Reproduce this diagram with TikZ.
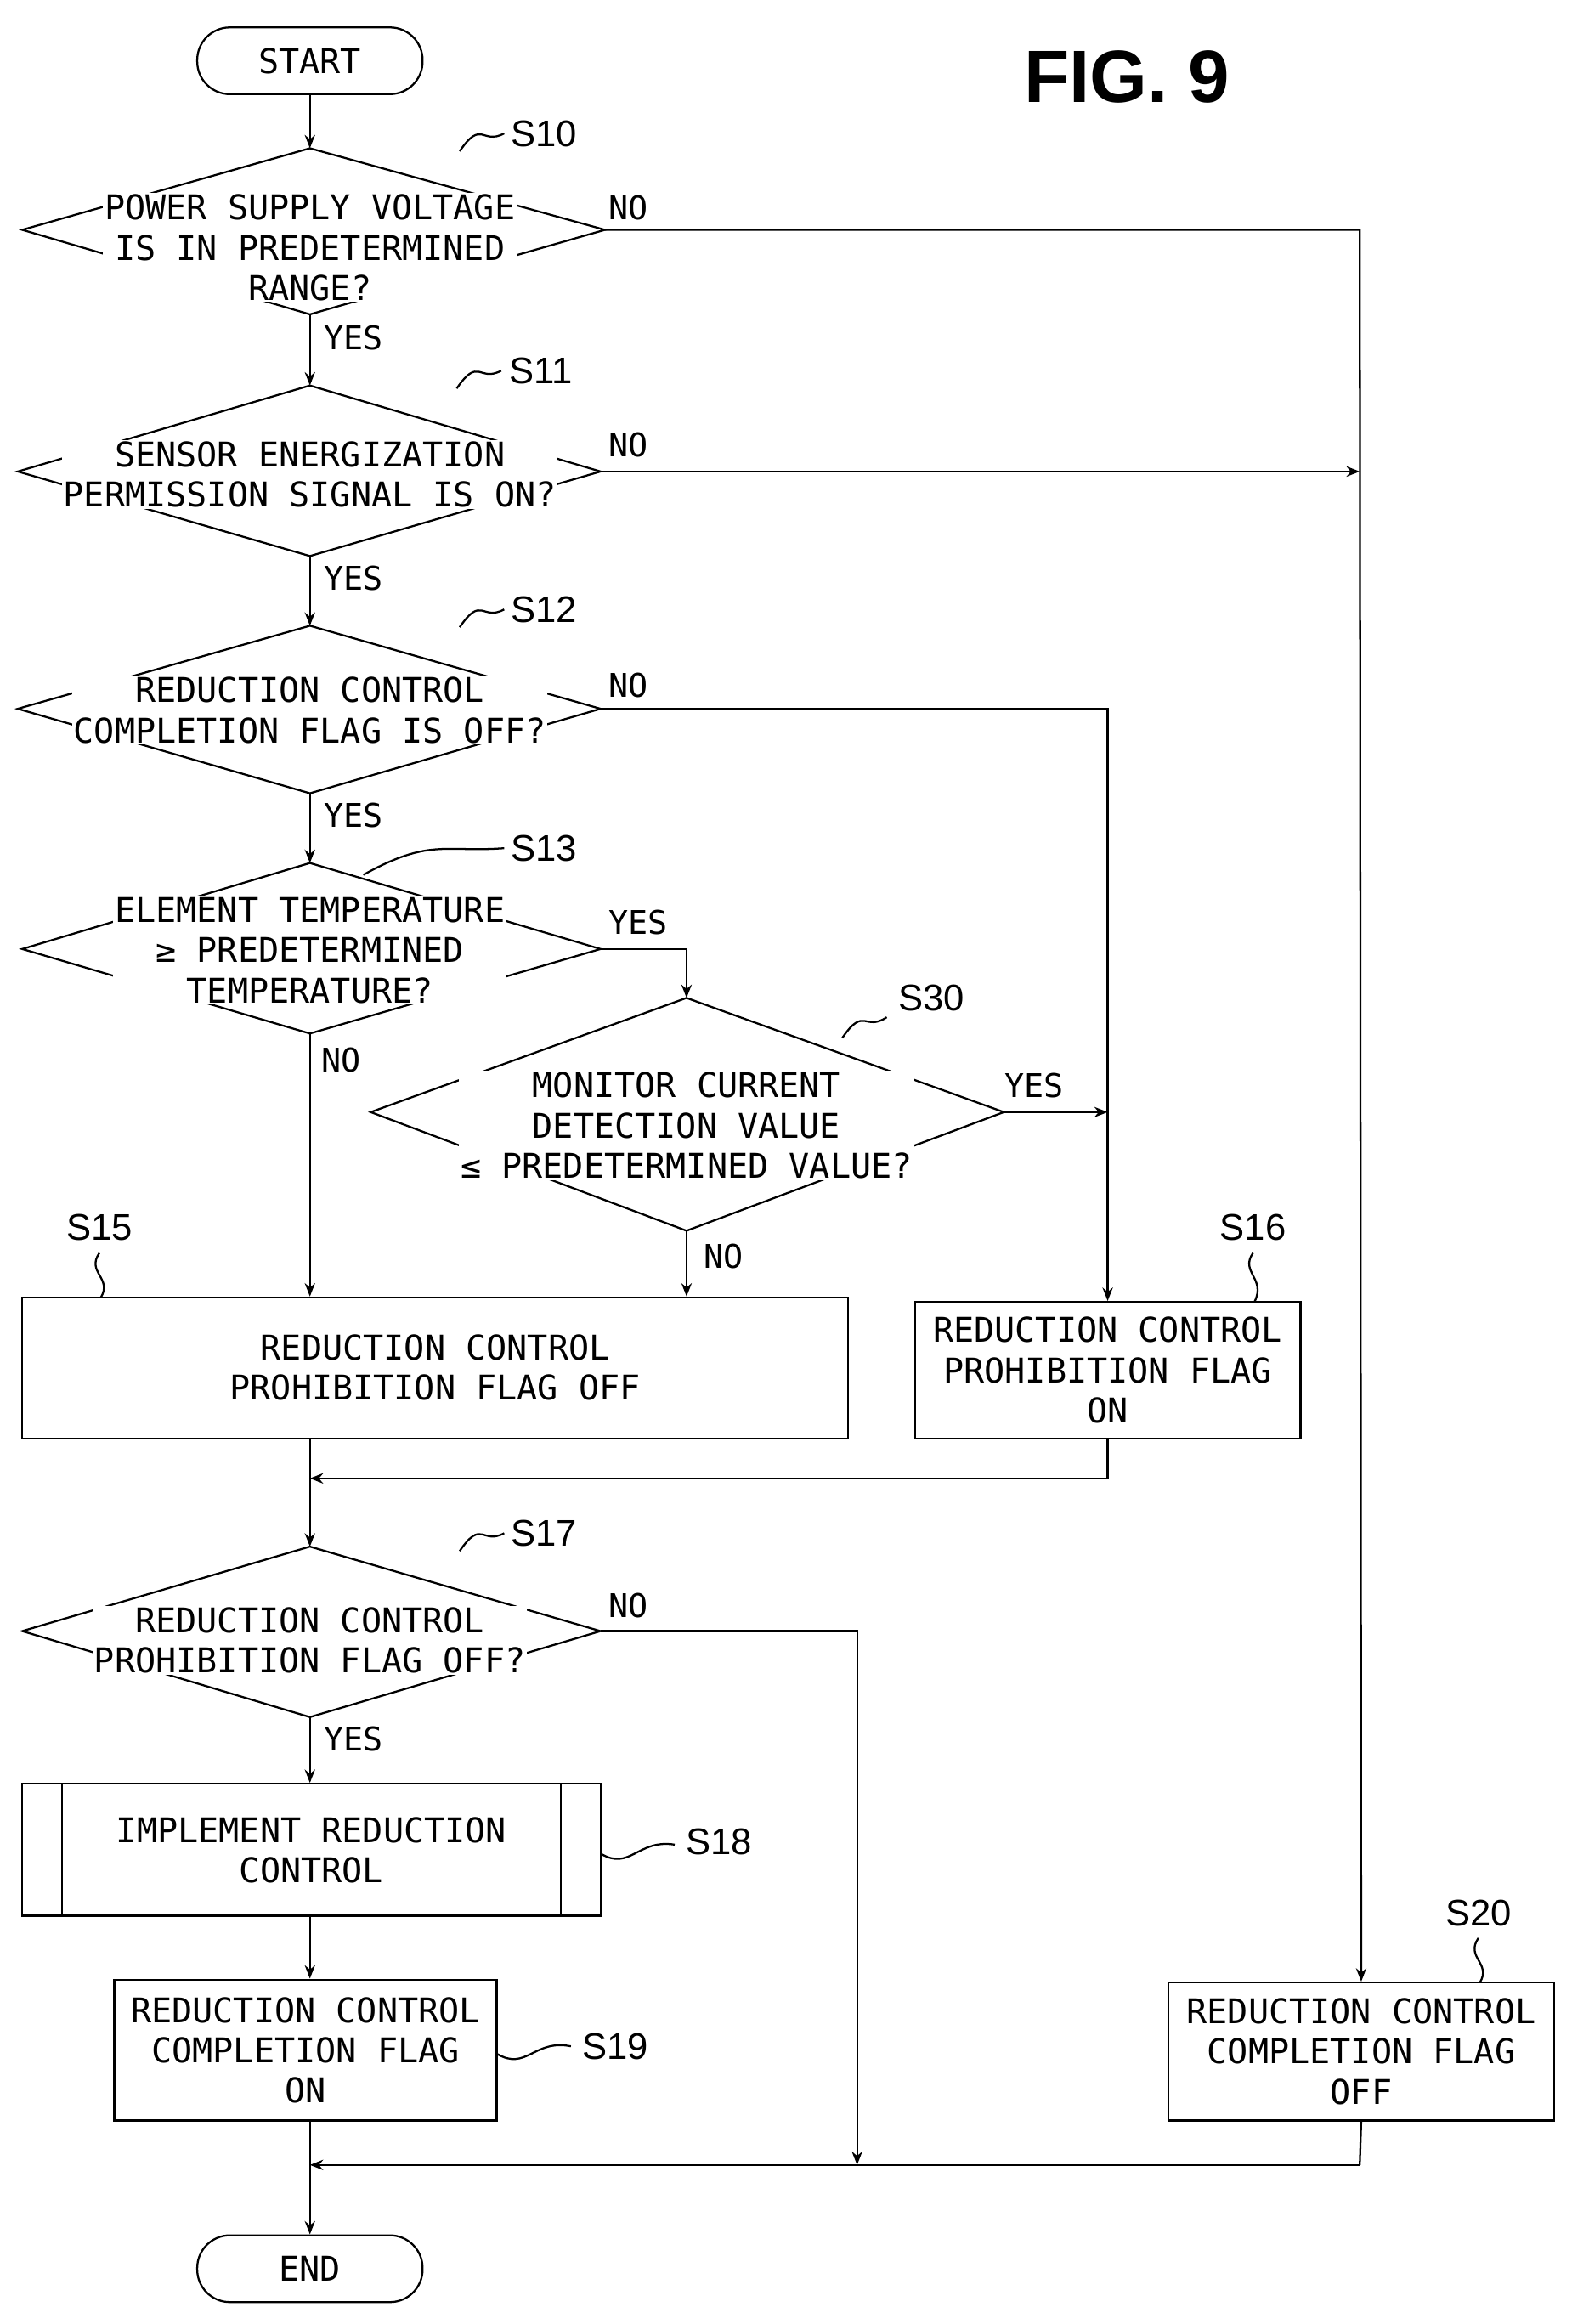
\documentclass[tikz,border=0pt]{standalone}
\usepackage{fontspec}
\setmonofont{DejaVu Sans Mono}
\setsansfont{Liberation Sans}
\usetikzlibrary{arrows.meta}
\begin{document}
\begin{tikzpicture}[x=1pt,y=-1pt,line width=1.3pt,
  txt/.style={font=\ttfamily\fontsize{23}{27}\selectfont,align=center,inner sep=1pt,fill=white},
  lbl/.style={font=\sffamily\fontsize{25}{27}\selectfont,inner sep=0pt},
  yn/.style={font=\ttfamily\fontsize{22}{24}\selectfont,inner sep=0pt,anchor=west},
  arr/.style={-{Stealth[length=9pt,width=7pt]}},
  term/.style={draw,rounded corners=22pt,minimum width=152pt,minimum height=45pt,font=\ttfamily\fontsize{23}{27}\selectfont}]
\useasboundingbox (0,0) rectangle (1059.6,1567.3);
\node[font=\sffamily\bfseries\fontsize{50}{50}\selectfont] (fig) at (760,52) {FIG. 9};
\node[term] (start) at (209,41) {START};
\node[term] (end) at (209,1530) {END};
% diamonds
\newcommand{\dia}[5]{%
 \coordinate (#1t) at (#2,#3); \coordinate (#1b) at (#2,#4);
 \draw (#1t) -- (#5) -- (#1b) -- cycle;}
% S10
\coordinate (a10t) at (209,100); \coordinate (a10l) at (15,155); \coordinate (a10r) at (408,155); \coordinate (a10b) at (209,212);
\draw (a10t)--(a10r)--(a10b)--(a10l)--cycle;
\node[txt] (t10) at (209,167) {POWER SUPPLY VOLTAGE\\IS IN PREDETERMINED\\RANGE?};
\coordinate (a11t) at (209,260); \coordinate (a11l) at (12,318); \coordinate (a11r) at (405,318); \coordinate (a11b) at (209,375);
\draw (a11t)--(a11r)--(a11b)--(a11l)--cycle;
\node[txt] (t11) at (209,320) {SENSOR ENERGIZATION\\PERMISSION SIGNAL IS ON?};
\coordinate (a12t) at (209,422); \coordinate (a12l) at (12,478); \coordinate (a12r) at (405,478); \coordinate (a12b) at (209,535);
\draw (a12t)--(a12r)--(a12b)--(a12l)--cycle;
\node[txt] (t12) at (209,479) {REDUCTION CONTROL\\COMPLETION FLAG IS OFF?};
\coordinate (a13t) at (209,582); \coordinate (a13l) at (15,640); \coordinate (a13r) at (405,640); \coordinate (a13b) at (209,697);
\draw (a13t)--(a13r)--(a13b)--(a13l)--cycle;
\node[txt] (t13) at (209,641) {ELEMENT TEMPERATURE\\≥ PREDETERMINED\\TEMPERATURE?};
\coordinate (a30t) at (463,673); \coordinate (a30l) at (250,750); \coordinate (a30r) at (677,750); \coordinate (a30b) at (463,830);
\draw (a30t)--(a30r)--(a30b)--(a30l)--cycle;
\node[txt] (t30) at (463,759) {MONITOR CURRENT\\DETECTION VALUE\\≤ PREDETERMINED VALUE?};
\coordinate (a17t) at (209,1043); \coordinate (a17l) at (15,1100); \coordinate (a17r) at (405,1100); \coordinate (a17b) at (209,1158);
\draw (a17t)--(a17r)--(a17b)--(a17l)--cycle;
\node[txt] (t17) at (209,1106) {REDUCTION CONTROL\\PROHIBITION FLAG OFF?};
% boxes
\node[draw,minimum width=557pt,minimum height=95pt,txt,fill=none] (s15) at (293.5,922.5) {REDUCTION CONTROL\\PROHIBITION FLAG OFF};
\node[draw,minimum width=260pt,minimum height=92pt,txt,fill=none] (s16) at (747,924) {REDUCTION CONTROL\\PROHIBITION FLAG\\ON};
\node[draw,minimum width=390pt,minimum height=89pt,txt,fill=none] (s18) at (210,1247.5) {IMPLEMENT REDUCTION\\CONTROL};
\draw (42,1203)--(42,1292) (378,1203)--(378,1292);
\node[draw,minimum width=258pt,minimum height=95pt,txt,fill=none] (s19) at (206,1382.5) {REDUCTION CONTROL\\COMPLETION FLAG\\ON};
\node[draw,minimum width=260pt,minimum height=93pt,txt,fill=none] (s20) at (918,1383.5) {REDUCTION CONTROL\\COMPLETION FLAG\\OFF};
% coordinates
\coordinate (c1) at (917,155); \coordinate (c2) at (917,318);
\coordinate (c3) at (747,478); \coordinate (c4) at (747,750);
\coordinate (c5) at (463,640);
\coordinate (c6) at (747,997); \coordinate (c7) at (209,997);
\coordinate (c8) at (578,1100); \coordinate (c9) at (578,1460);
\coordinate (c10) at (917,1460); \coordinate (c11) at (209,1460);
% connectors
\draw[arr] (start) -- (a10t);
\draw[arr] (a10b) -- (a11t);
\draw[arr] (a11b) -- (a12t);
\draw[arr] (a12b) -- (a13t);
\draw[arr] (a10r) -- (c1) -- (s20.north);
\draw[arr] (a11r) -- (c2);
\draw[arr] (a12r) -- (c3) -- (s16.north);
\draw[arr] (a30r) -- (c4);
\draw[arr] (a13r) -- (c5) -- (a30t);
\draw[arr] (a13b) -- (a13b |- s15.north);
\draw[arr] (a30b) -- (a30b |- s15.north);
\draw (s16.south) -- (c6);
\draw[arr] (c6) -- (c7);
\draw[arr] (s15.south -| a17t) -- (a17t);
\draw[arr] (a17r) -- (c8) -- (c9);
\draw[arr] (a17b) -- (s18.north -| a17b);
\draw[arr] (s18.south -| a17b) -- (s19.north -| a17b);
\draw[arr] (s19.south -| a17b) -- (end);
\draw (s20.south) -- (c10);
\draw[arr] (c10) -- (c11);
% YES/NO
\node[yn] at (218,228) {YES}; \node[yn] at (218,390) {YES}; \node[yn] at (218,550) {YES};
\node[yn] at (218,1173) {YES};
\node[yn] at (410,140) {NO}; \node[yn] at (410,300) {NO}; \node[yn] at (410,462) {NO};
\node[yn] at (410,622) {YES}; \node[yn] at (216,715) {NO}; \node[yn] at (677,732) {YES};
\node[yn] at (474,847) {NO}; \node[yn] at (410,1083) {NO};
% step labels
\node[lbl] (l10) at (367,90) {S10}; \draw (310,102) .. controls (325,80) and (325,98) .. (340,90);
\node[lbl] (l11) at (365,250) {S11}; \draw (308,262) .. controls (323,240) and (323,258) .. (338,250);
\node[lbl] (l12) at (367,411) {S12}; \draw (310,423) .. controls (325,401) and (325,419) .. (340,411);
\node[lbl] (l13) at (367,572) {S13}; \draw (245,590) .. controls (290,565) and (300,575) .. (340,572);
\node[lbl] (l30) at (628,673) {S30}; \draw (568,700) .. controls (583,678) and (583,696) .. (598,686);
\node[lbl] (l15) at (67,828) {S15}; \draw (67,845) .. controls (58,858) and (76,862) .. (68,875);
\node[lbl] (l16) at (845,828) {S16}; \draw (845,845) .. controls (836,858) and (854,862) .. (846,878);
\node[lbl] (l17) at (367,1034) {S17}; \draw (310,1046) .. controls (325,1024) and (325,1042) .. (340,1034);
\node[lbl] (l18) at (485,1242) {S18}; \draw (405,1250) .. controls (425,1262) and (430,1240) .. (455,1244);
\node[lbl] (l19) at (415,1380) {S19}; \draw (335,1385) .. controls (355,1397) and (360,1375) .. (385,1380);
\node[lbl] (l20) at (997,1290) {S20}; \draw (997,1307) .. controls (988,1320) and (1006,1324) .. (998,1337);
\end{tikzpicture}
\end{document}
